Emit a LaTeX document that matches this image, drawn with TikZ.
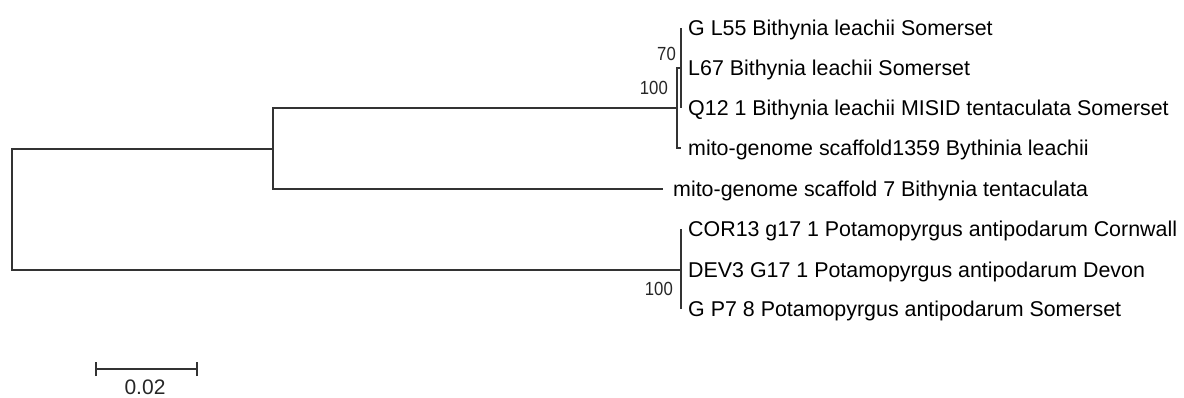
\documentclass[tikz,border=0pt]{standalone}
\usepackage{fontspec}
\setmainfont{Liberation Sans}
\newfontfamily\bsfont[FakeStretch=0.88]{Liberation Sans}
\begin{document}
\begin{tikzpicture}[x=1pt,y=-1pt,
  branch/.style={draw=black!80,line width=2pt},
  leaf/.style={anchor=west,inner ysep=0pt,inner xsep=0pt,text height=15pt,text depth=0pt,
    font=\fontsize{21.4}{25}\selectfont,text=black},
  boot/.style={anchor=base east,inner sep=0pt,font=\bsfont\fontsize{19}{22}\selectfont,text=black!85},
  sbtext/.style={inner sep=0pt,font=\fontsize{21}{24}\selectfont,text=black!85}]
\useasboundingbox (0,0) rectangle (1184,397);
% internal nodes
\coordinate (R) at (12,209);
\coordinate (U) at (273,149);
\coordinate (A) at (677,108);
\coordinate (B) at (681,68);
\coordinate (P) at (681,270);
% leaves
\node[leaf] (l1) at (681,28) {\hspace{7pt}G L55 Bithynia leachii Somerset};
\node[leaf] (l2) at (681,68) {\hspace{7pt}L67 Bithynia leachii Somerset};
\node[leaf] (l3) at (681,108) {\hspace{7pt}Q12 1 Bithynia leachii MISID tentaculata Somerset};
\node[leaf] (l4) at (681,148) {\hspace{7pt}mito-genome scaffold1359 Bythinia leachii};
\node[leaf] (l5) at (663,189) {\hspace{10pt}mito-genome scaffold 7 Bithynia tentaculata};
\node[leaf] (l6) at (681,229) {\hspace{7pt}COR13 g17 1 Potamopyrgus antipodarum Cornwall};
\node[leaf] (l7) at (681,270) {\hspace{7pt}DEV3 G17 1 Potamopyrgus antipodarum Devon};
\node[leaf] (l8) at (681,309) {\hspace{7pt}G P7 8 Potamopyrgus antipodarum Somerset};
% branches
\draw[branch] (U) -| (R) |- (P);
\draw[branch] (A) -| (U) |- (l5.west);
\draw[branch] (B) -| (A) |- (l4.west);
\draw[branch] (l1.west) -- (l3.west);
\draw[branch] (l6.west) -- (l8.west);
% bootstrap values
\node[boot] (bB) at (676,60) {70};
\node[boot] (bA) at (668,94) {100};
\node[boot] (bP) at (673,295) {100};
% scale bar
\coordinate (s1) at (96,369);
\coordinate (s2) at (197,369);
\draw[branch] (s1) -- (s2);
\draw[branch] ([yshift=-7pt]s1) -- ([yshift=7pt]s1);
\draw[branch] ([yshift=-7pt]s2) -- ([yshift=7pt]s2);
\node[sbtext] (sb) at (145,387) {0.02};
\end{tikzpicture}
\end{document}
